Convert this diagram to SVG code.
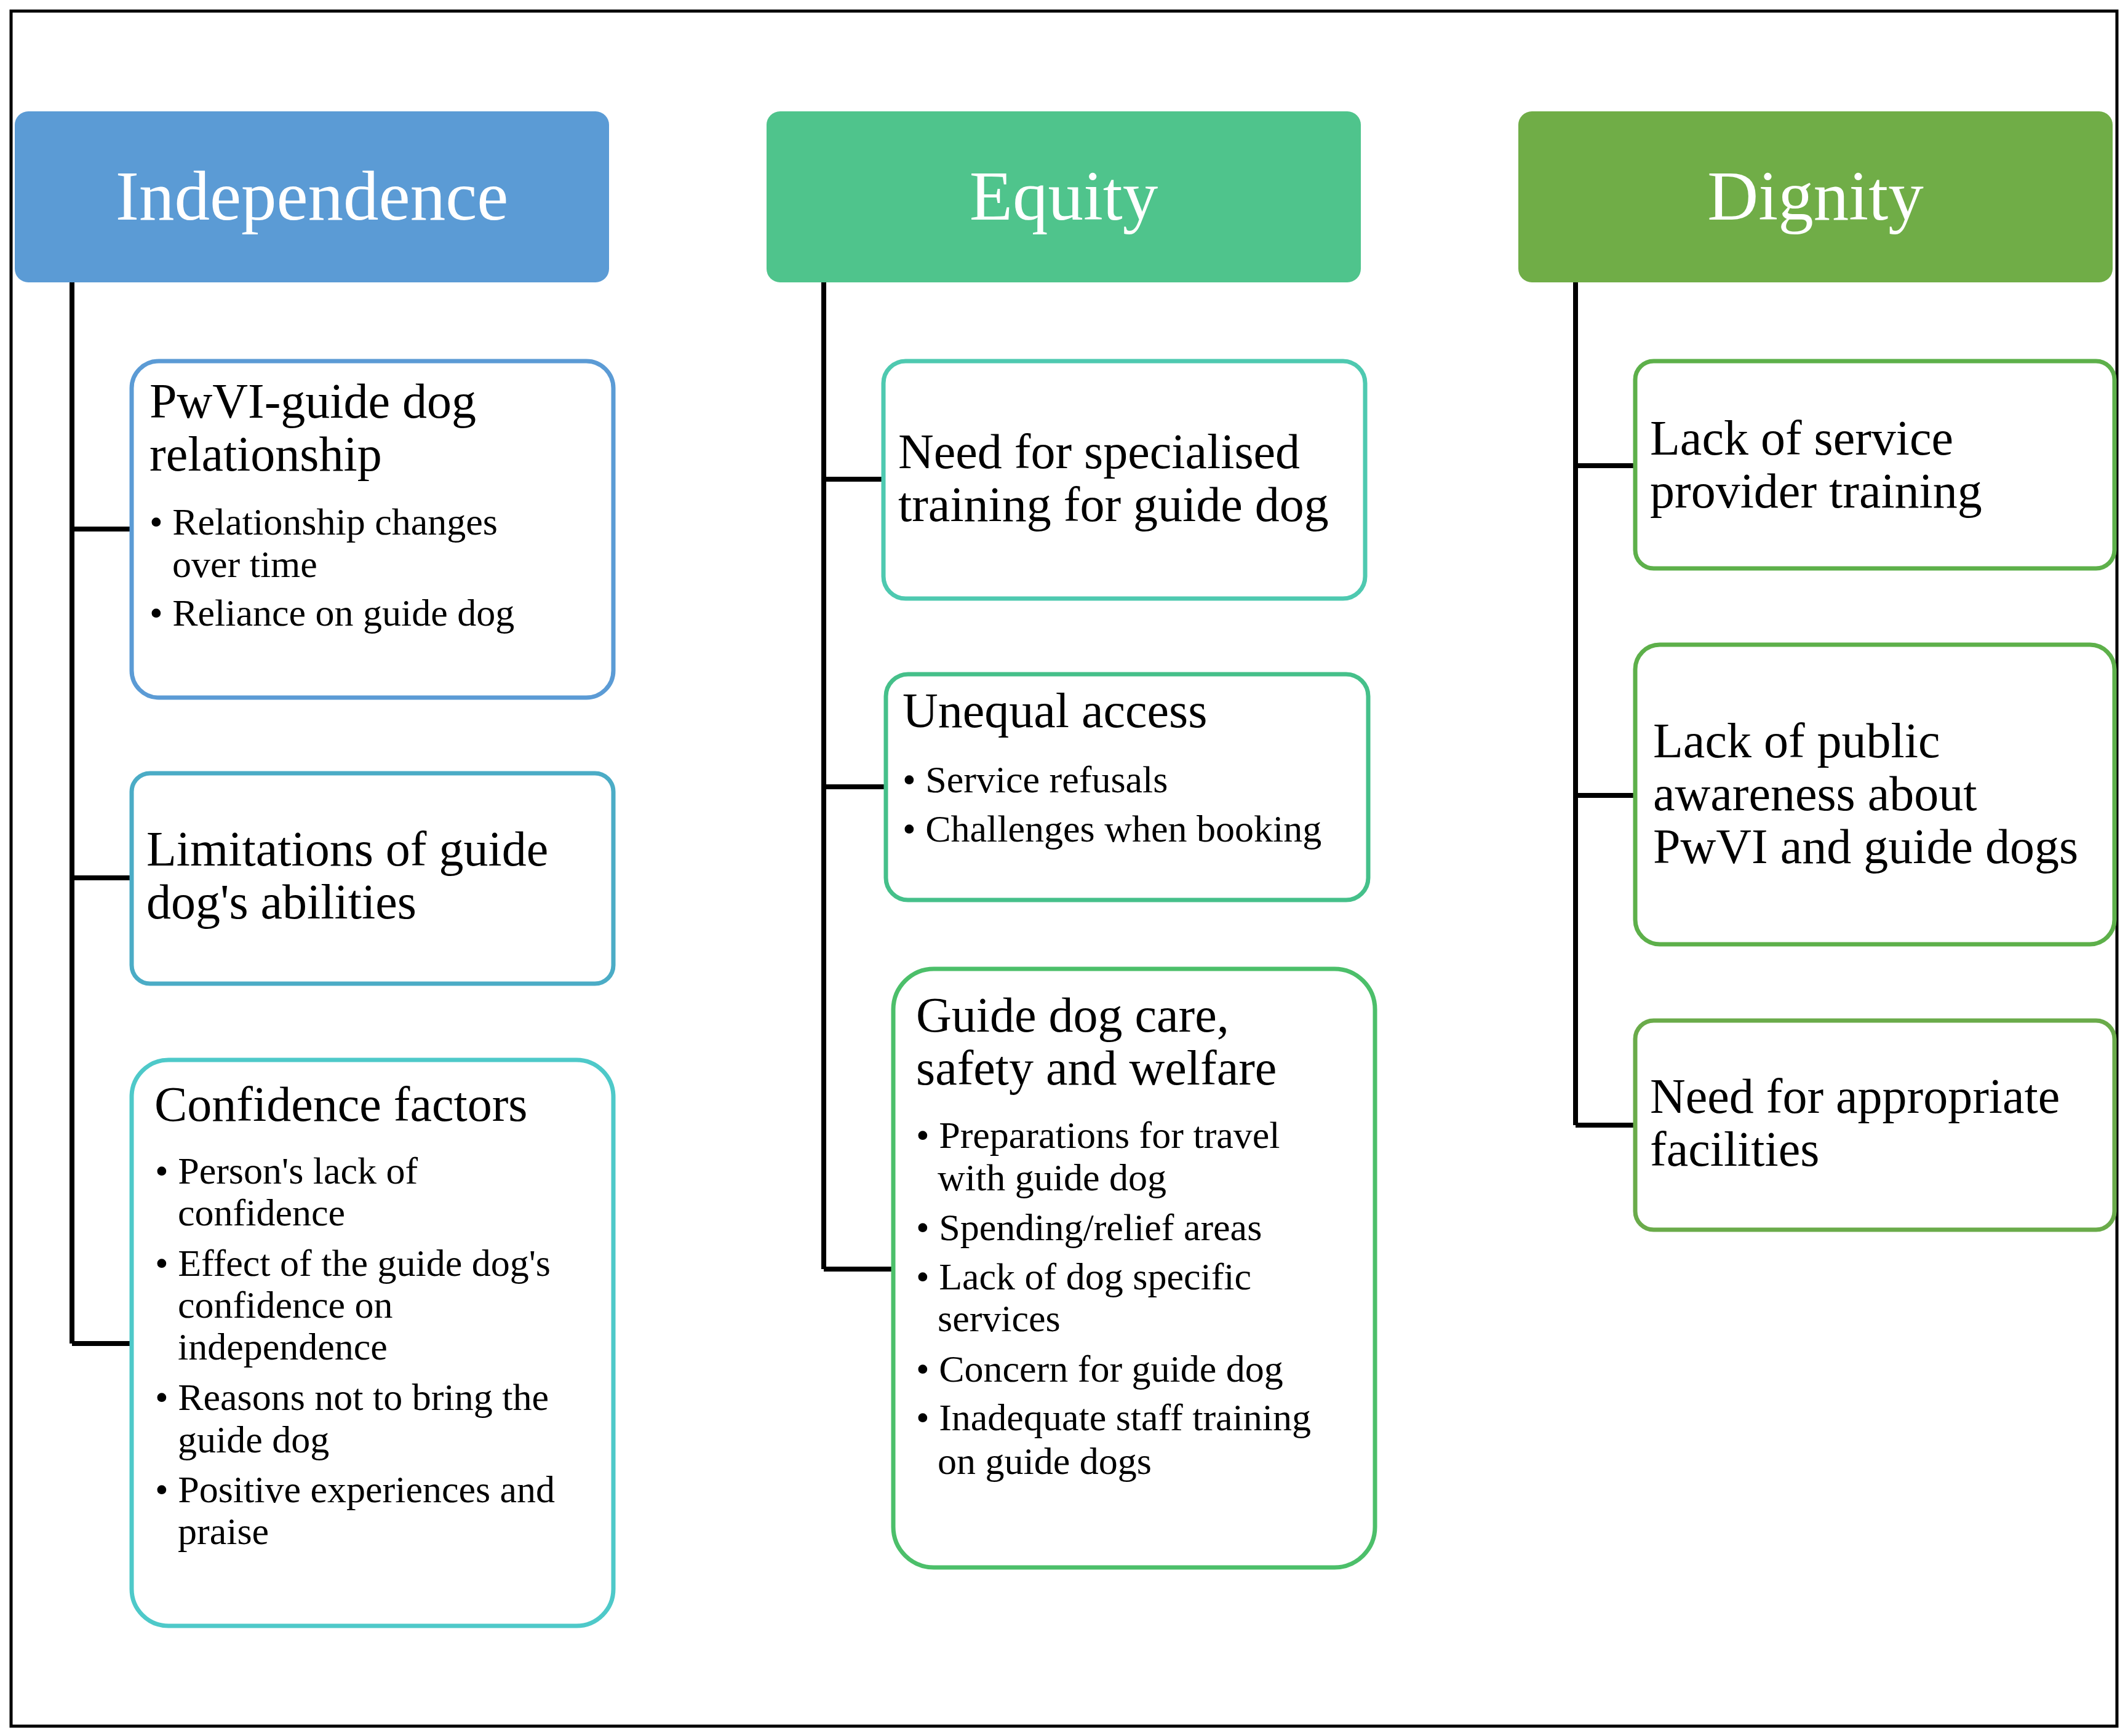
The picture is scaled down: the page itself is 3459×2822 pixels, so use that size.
<svg xmlns="http://www.w3.org/2000/svg" width="3459" height="2822" viewBox="0 0 3459 2822">
<style>
text{font-family:"Liberation Serif","Times New Roman",serif;fill:#000}
.hd{font-size:115px;fill:#fff;text-anchor:middle}
.t{font-size:80px}
.b{font-size:62px}
.box{fill:#fff;stroke-width:7}
.ln{stroke:#000;stroke-width:8;fill:none}
</style>
<rect x="0" y="0" width="3459" height="2822" fill="#fff"/>
<rect x="18" y="18" width="3423" height="2788" fill="none" stroke="#000" stroke-width="5"/>
<g id="independence"><rect x="24" y="181" width="966" height="278" rx="22" fill="#5b9bd5"/><text class="hd" x="507" y="357">Independence</text></g>
<g id="equity"><rect x="1246" y="181" width="966" height="278" rx="22" fill="#4fc48c"/><text class="hd" x="1729" y="357">Equity</text></g>
<g id="dignity"><rect x="2468" y="181" width="966" height="278" rx="22" fill="#70ad47"/><text class="hd" x="2951" y="357">Dignity</text></g>
<g id="connectors">
<path class="ln" d="M117 459V2184M117 860H214M117 1427H214M117 2184H214"/>
<path class="ln" d="M1339 459V2063M1339 779H1436M1339 1279H1440M1339 2063H1452"/>
<path class="ln" d="M2561 459V1829M2561 757H2658M2561 1293H2658M2561 1829H2658"/>
</g>
<g id="pwvi"><rect class="box" x="214" y="587" width="783" height="547" rx="44" stroke="#5b9bd5"/>
<text class="t" x="243" y="679">PwVI-guide dog</text><text class="t" x="243" y="765">relationship</text>
<text class="b" x="243" y="869">• Relationship changes</text><text class="b" x="280" y="938">over time</text><text class="b" x="243" y="1017">• Reliance on guide dog</text></g>
<g id="limitations"><rect class="box" x="214" y="1257" width="783" height="342" rx="30" stroke="#4bacc6"/>
<text class="t" x="238" y="1407">Limitations of guide</text><text class="t" x="238" y="1493">dog's abilities</text></g>
<g id="confidence"><rect class="box" x="214" y="1723" width="783" height="920" rx="60" stroke="#4ec9c9"/>
<text class="t" x="251" y="1822">Confidence factors</text>
<text class="b" x="252" y="1924">• Person's lack of</text><text class="b" x="289" y="1992">confidence</text>
<text class="b" x="252" y="2074">• Effect of the guide dog's</text><text class="b" x="289" y="2142">confidence on</text><text class="b" x="289" y="2210">independence</text>
<text class="b" x="252" y="2292">• Reasons not to bring the</text><text class="b" x="289" y="2361">guide dog</text>
<text class="b" x="252" y="2442">• Positive experiences and</text><text class="b" x="289" y="2510">praise</text></g>
<g id="training"><rect class="box" x="1436" y="587" width="783" height="386" rx="36" stroke="#4ec9b0"/>
<text class="t" x="1460" y="761">Need for specialised</text><text class="t" x="1460" y="847">training for guide dog</text></g>
<g id="unequal"><rect class="box" x="1440" y="1096" width="784" height="367" rx="36" stroke="#45c08a"/>
<text class="t" x="1467" y="1182">Unequal access</text>
<text class="b" x="1467" y="1288">• Service refusals</text><text class="b" x="1467" y="1368">• Challenges when booking</text></g>
<g id="care"><rect class="box" x="1452" y="1575" width="783" height="973" rx="66" stroke="#4cbf6a"/>
<text class="t" x="1489" y="1677">Guide dog care,</text><text class="t" x="1489" y="1763">safety and welfare</text>
<text class="b" x="1489" y="1866">• Preparations for travel</text><text class="b" x="1524" y="1935">with guide dog</text>
<text class="b" x="1489" y="2016">• Spending/relief areas</text>
<text class="b" x="1489" y="2096">• Lack of dog specific</text><text class="b" x="1524" y="2164">services</text>
<text class="b" x="1489" y="2246">• Concern for guide dog</text>
<text class="b" x="1489" y="2325">• Inadequate staff training</text><text class="b" x="1524" y="2396">on guide dogs</text></g>
<g id="provider"><rect class="box" x="2658" y="587" width="779" height="337" rx="30" stroke="#5db04a"/>
<text class="t" x="2682" y="739">Lack of service</text><text class="t" x="2682" y="825">provider training</text></g>
<g id="public"><rect class="box" x="2658" y="1048" width="779" height="487" rx="40" stroke="#5db04a"/>
<text class="t" x="2687" y="1231">Lack of public</text><text class="t" x="2687" y="1317">awareness about</text><text class="t" x="2687" y="1403">PwVI and guide dogs</text></g>
<g id="facilities"><rect class="box" x="2658" y="1659" width="779" height="340" rx="30" stroke="#6aab4a"/>
<text class="t" x="2682" y="1809">Need for appropriate</text><text class="t" x="2682" y="1895">facilities</text></g>
</svg>
